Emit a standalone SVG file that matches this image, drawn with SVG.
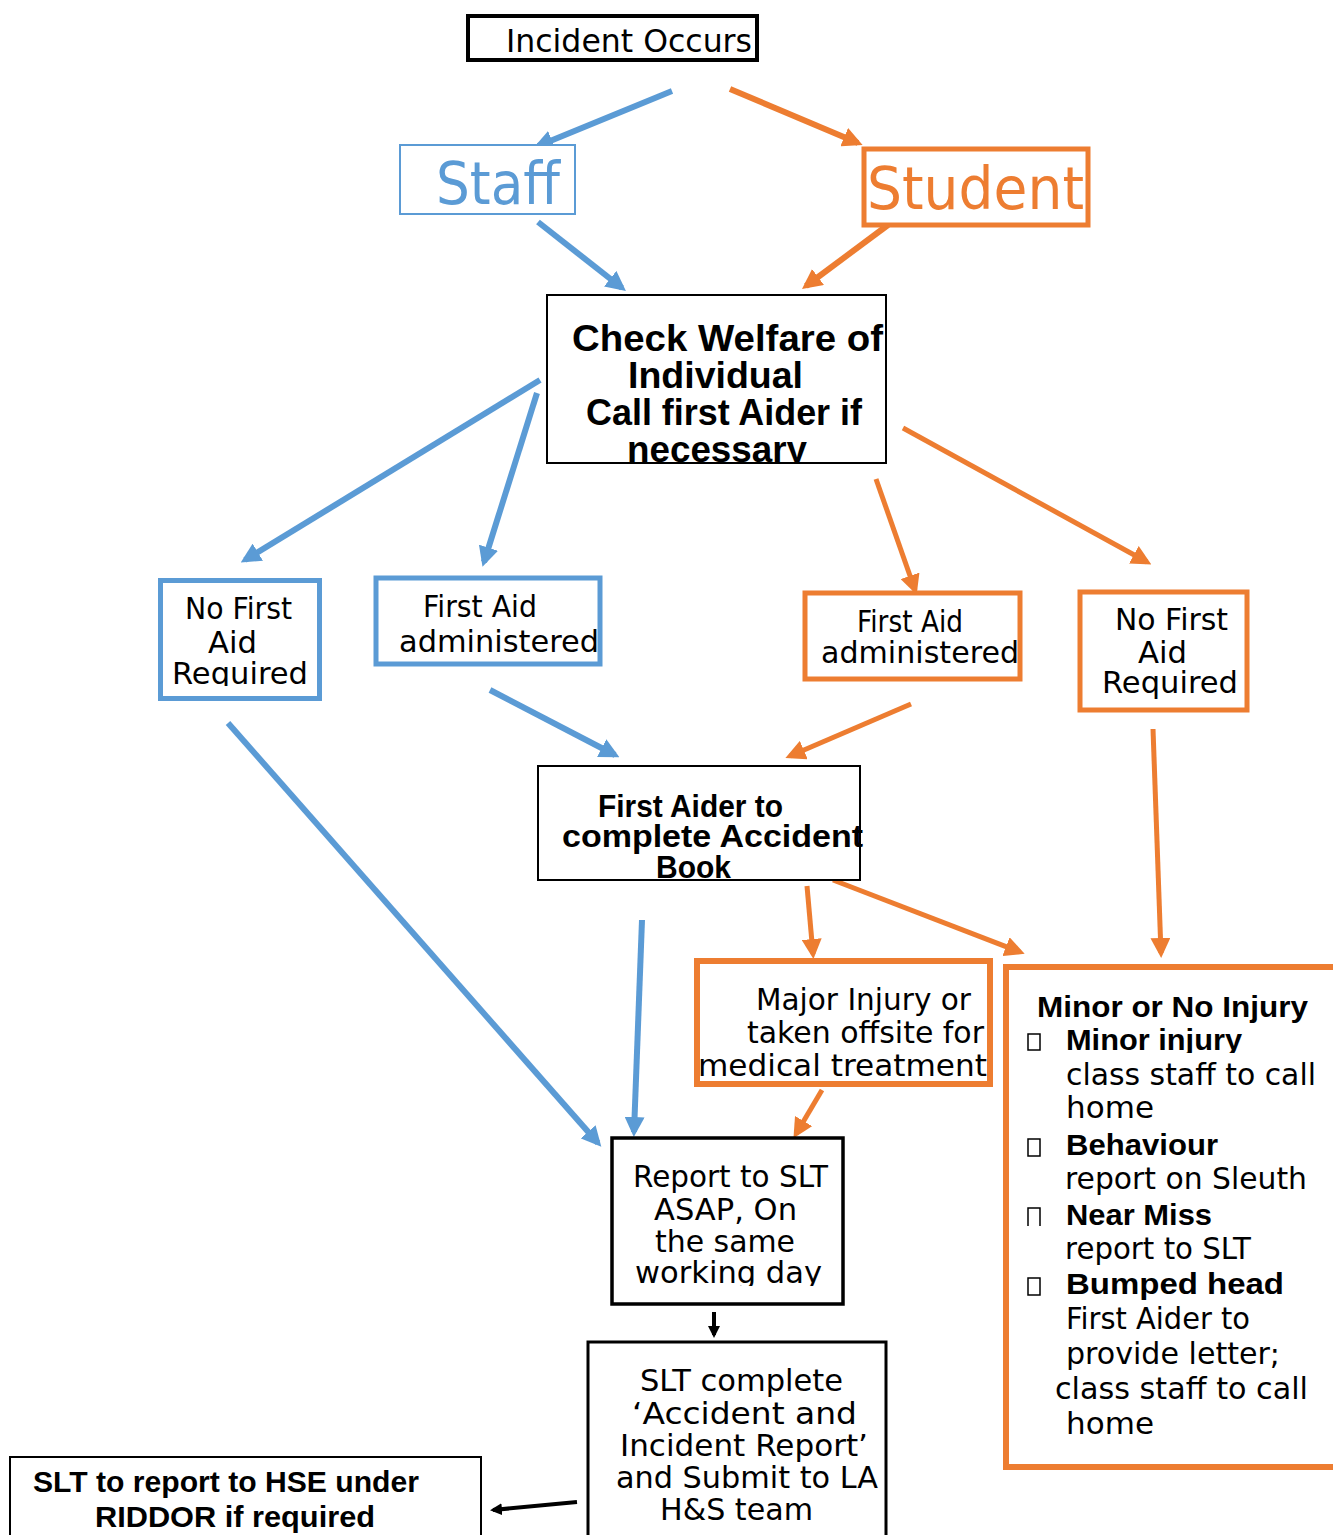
<svg xmlns="http://www.w3.org/2000/svg" width="1333" height="1535" viewBox="0 0 1333 1535">
<style>
.t{font-family:"DejaVu Sans","Liberation Sans",sans-serif;font-size:30px;fill:#000}
.b{font-family:"Liberation Sans","DejaVu Sans",sans-serif;font-weight:bold}
.h{font-size:37px}
.m{font-size:32px}
.k{font-size:29px}
.big{font-size:58px}
.bl{fill:none;stroke:#5B9BD5}
.or{fill:none;stroke:#ED7D31}
.bk{fill:none;stroke:#000}
.cb{fill:none;stroke:#000;stroke-width:1.5}
</style>
<defs>
<marker id="ab" markerUnits="userSpaceOnUse" markerWidth="20" markerHeight="20" viewBox="0 0 20 20" refX="15" refY="10" orient="auto"><path d="M0,0L20,10L0,20z" fill="#5B9BD5"/></marker>
<marker id="ao" markerUnits="userSpaceOnUse" markerWidth="20" markerHeight="20" viewBox="0 0 20 20" refX="15" refY="10" orient="auto"><path d="M0,0L20,10L0,20z" fill="#ED7D31"/></marker>
<marker id="ak" markerUnits="userSpaceOnUse" markerWidth="12" markerHeight="12" viewBox="0 0 12 12" refX="9" refY="6" orient="auto"><path d="M0,0L12,6L0,12z" fill="#000"/></marker>
<clipPath id="cWel"><rect x="547" y="295" width="339" height="168"/></clipPath>
<clipPath id="cBook"><rect x="537" y="766" width="330" height="114"/></clipPath>
<clipPath id="cRep"><rect x="612" y="1137" width="231" height="149"/></clipPath>
<clipPath id="cReq"><rect x="160" y="580" width="160" height="106"/></clipPath>
<clipPath id="cMin"><rect x="1060" y="1020" width="260" height="33"/></clipPath>
</defs>
<rect width="1333" height="1535" fill="#fff"/>

<g id="connectors" stroke-linecap="butt">
<path class="bl" stroke-width="6" d="M672,91L538,146" marker-end="url(#ab)"/>
<path class="or" stroke-width="6" d="M730,89L858,143" marker-end="url(#ao)"/>
<path class="bl" stroke-width="6" d="M538,222L622,288" marker-end="url(#ab)"/>
<path class="or" stroke-width="6" d="M888,225L806,286" marker-end="url(#ao)"/>
<path class="bl" stroke-width="6" d="M540,380L245,560" marker-end="url(#ab)"/>
<path class="bl" stroke-width="6" d="M537,393L484,562" marker-end="url(#ab)"/>
<path class="or" stroke-width="5" d="M876,479L915,590" marker-end="url(#ao)"/>
<path class="or" stroke-width="5" d="M903,428L1147,562" marker-end="url(#ao)"/>
<path class="bl" stroke-width="6" d="M490,690L615,755" marker-end="url(#ab)"/>
<path class="or" stroke-width="5" d="M911,704L790,756" marker-end="url(#ao)"/>
<path class="bl" stroke-width="6" d="M228,723L598,1143" marker-end="url(#ab)"/>
<path class="bl" stroke-width="6" d="M642,920L634,1132" marker-end="url(#ab)"/>
<path class="or" stroke-width="5" d="M807,886L813,954" marker-end="url(#ao)"/>
<path class="or" stroke-width="5" d="M833,880L1020,952" marker-end="url(#ao)"/>
<path class="or" stroke-width="5" d="M1153,729L1161,953" marker-end="url(#ao)"/>
<path class="or" stroke-width="5" d="M822,1090L796,1134" marker-end="url(#ao)"/>
<path class="bk" stroke-width="4" d="M714,1312L714,1335" marker-end="url(#ak)"/>
<path class="bk" stroke-width="4" d="M577,1502L493,1510" marker-end="url(#ak)"/>
</g>

<g id="incident">
<rect x="468" y="16" width="289" height="44" fill="#fff" stroke="#000" stroke-width="4"/>
<text class="t m" x="506" y="52" textLength="246" lengthAdjust="spacingAndGlyphs">Incident Occurs</text>
</g>

<g id="staff">
<rect x="400" y="145" width="175" height="69" fill="#fff" stroke="#5B9BD5" stroke-width="2"/>
<text class="t big" x="436" y="204" style="fill:#5B9BD5" textLength="124" lengthAdjust="spacingAndGlyphs">Staff</text>
</g>

<g id="student">
<rect x="864" y="149" width="224" height="76" fill="#fff" stroke="#ED7D31" stroke-width="5"/>
<text class="t big" x="867" y="209" style="fill:#ED7D31" textLength="217" lengthAdjust="spacingAndGlyphs">Student</text>
</g>

<g id="check-welfare">
<rect x="547" y="295" width="339" height="168" fill="#fff" stroke="#000" stroke-width="2"/>
<g clip-path="url(#cWel)">
<text class="t b h" x="572" y="351" textLength="311" lengthAdjust="spacingAndGlyphs">Check Welfare of</text>
<text class="t b h" x="628" y="388" textLength="175" lengthAdjust="spacingAndGlyphs">Individual</text>
<text class="t b h" x="586" y="425" textLength="276" lengthAdjust="spacingAndGlyphs">Call first Aider if</text>
<text class="t b h" x="627" y="462" textLength="180" lengthAdjust="spacingAndGlyphs">necessary</text>
</g>
</g>

<g id="staff-no-first-aid">
<rect x="160.5" y="580.5" width="159" height="118" fill="#fff" stroke="#5B9BD5" stroke-width="5"/>
<g clip-path="url(#cReq)">
<text class="t" x="185" y="619" textLength="107" lengthAdjust="spacingAndGlyphs">No First</text>
<text class="t" x="208" y="653" textLength="49" lengthAdjust="spacingAndGlyphs">Aid</text>
<text class="t" x="172" y="684" textLength="136" lengthAdjust="spacingAndGlyphs">Required</text>
</g>
</g>

<g id="staff-first-aid">
<rect x="376" y="578" width="224" height="86" fill="#fff" stroke="#5B9BD5" stroke-width="5"/>
<text class="t" x="423" y="617" textLength="114" lengthAdjust="spacingAndGlyphs">First Aid</text>
<text class="t" x="399" y="652" textLength="200" lengthAdjust="spacingAndGlyphs">administered</text>
</g>

<g id="student-first-aid">
<rect x="805" y="593" width="215" height="86" fill="#fff" stroke="#ED7D31" stroke-width="5"/>
<text class="t" x="857" y="632" textLength="106" lengthAdjust="spacingAndGlyphs">First Aid</text>
<text class="t" x="821" y="663" textLength="198" lengthAdjust="spacingAndGlyphs">administered</text>
</g>

<g id="student-no-first-aid">
<rect x="1080" y="592" width="167" height="118" fill="#fff" stroke="#ED7D31" stroke-width="5"/>
<text class="t" x="1115" y="630" textLength="113" lengthAdjust="spacingAndGlyphs">No First</text>
<text class="t" x="1138" y="663" textLength="49" lengthAdjust="spacingAndGlyphs">Aid</text>
<text class="t" x="1102" y="693" textLength="136" lengthAdjust="spacingAndGlyphs">Required</text>
</g>

<g id="first-aider-book">
<rect x="538" y="766" width="322" height="114" fill="#fff" stroke="#000" stroke-width="2"/>
<g clip-path="url(#cBook)">
<text class="t b m" x="598" y="817" textLength="185" lengthAdjust="spacingAndGlyphs">First Aider to</text>
<text class="t b m" x="562" y="847" textLength="301" lengthAdjust="spacingAndGlyphs">complete Accident</text>
<text class="t b m" x="656" y="878" textLength="75" lengthAdjust="spacingAndGlyphs">Book</text>
</g>
</g>

<g id="major-injury">
<rect x="697" y="961" width="293" height="123" fill="#fff" stroke="#ED7D31" stroke-width="6"/>
<text class="t" x="756" y="1010" textLength="215" lengthAdjust="spacingAndGlyphs">Major Injury or</text>
<text class="t" x="747" y="1043" textLength="237" lengthAdjust="spacingAndGlyphs">taken offsite for</text>
<text class="t" x="698" y="1076" textLength="289" lengthAdjust="spacingAndGlyphs">medical treatment</text>
</g>

<g id="minor-injury">
<rect x="1006" y="967" width="400" height="500" fill="#fff" stroke="#ED7D31" stroke-width="6"/>
<text class="t b k" x="1037" y="1017" textLength="271" lengthAdjust="spacingAndGlyphs">Minor or No Injury</text>
<rect class="cb" x="1028" y="1034" width="12" height="16"/>
<g clip-path="url(#cMin)"><text class="t b k" x="1066" y="1050" textLength="176" lengthAdjust="spacingAndGlyphs">Minor injury</text></g>
<text class="t" x="1066" y="1085" textLength="250" lengthAdjust="spacingAndGlyphs">class staff to call</text>
<text class="t" x="1066" y="1118" textLength="88" lengthAdjust="spacingAndGlyphs">home</text>
<rect class="cb" x="1028" y="1139" width="12" height="17"/>
<text class="t b k" x="1066" y="1155" textLength="152" lengthAdjust="spacingAndGlyphs">Behaviour</text>
<text class="t" x="1065" y="1189" textLength="242" lengthAdjust="spacingAndGlyphs">report on Sleuth</text>
<path class="cb" d="M1028,1226V1208H1040V1226"/>
<text class="t b k" x="1066" y="1225" textLength="146" lengthAdjust="spacingAndGlyphs">Near Miss</text>
<text class="t" x="1065" y="1259" textLength="186" lengthAdjust="spacingAndGlyphs">report to SLT</text>
<rect class="cb" x="1028" y="1278" width="12" height="17"/>
<text class="t b k" x="1066" y="1294" textLength="218" lengthAdjust="spacingAndGlyphs">Bumped head</text>
<text class="t" x="1066" y="1329" textLength="184" lengthAdjust="spacingAndGlyphs">First Aider to</text>
<text class="t" x="1066" y="1364" textLength="214" lengthAdjust="spacingAndGlyphs">provide letter;</text>
<text class="t" x="1055" y="1399" textLength="253" lengthAdjust="spacingAndGlyphs">class staff to call</text>
<text class="t" x="1066" y="1434" textLength="88" lengthAdjust="spacingAndGlyphs">home</text>
</g>

<g id="report-slt">
<rect x="612" y="1138" width="231" height="166" fill="#fff" stroke="#000" stroke-width="3.5"/>
<g clip-path="url(#cRep)">
<text class="t" x="633" y="1187" textLength="195" lengthAdjust="spacingAndGlyphs">Report to SLT</text>
<text class="t" x="654" y="1220" textLength="143" lengthAdjust="spacingAndGlyphs">ASAP, On</text>
<text class="t" x="655" y="1252" textLength="140" lengthAdjust="spacingAndGlyphs">the same</text>
<text class="t" x="635" y="1283" textLength="187" lengthAdjust="spacingAndGlyphs">working day</text>
</g>
</g>

<g id="slt-complete">
<rect x="588" y="1342" width="298" height="250" fill="#fff" stroke="#000" stroke-width="3"/>
<text class="t" x="640" y="1391" textLength="203" lengthAdjust="spacingAndGlyphs">SLT complete</text>
<text class="t" x="632" y="1424" textLength="225" lengthAdjust="spacingAndGlyphs">‘Accident and</text>
<text class="t" x="620" y="1456" textLength="248" lengthAdjust="spacingAndGlyphs">Incident Report’</text>
<text class="t" x="616" y="1488" textLength="262" lengthAdjust="spacingAndGlyphs">and Submit to LA</text>
<text class="t" x="660" y="1520" textLength="153" lengthAdjust="spacingAndGlyphs">H&amp;S team</text>
</g>

<g id="riddor">
<rect x="10" y="1457" width="471" height="120" fill="#fff" stroke="#000" stroke-width="2"/>
<text class="t b" x="33" y="1492" textLength="386" lengthAdjust="spacingAndGlyphs">SLT to report to HSE under</text>
<text class="t b" x="95" y="1527" textLength="280" lengthAdjust="spacingAndGlyphs">RIDDOR if required</text>
</g>
</svg>
